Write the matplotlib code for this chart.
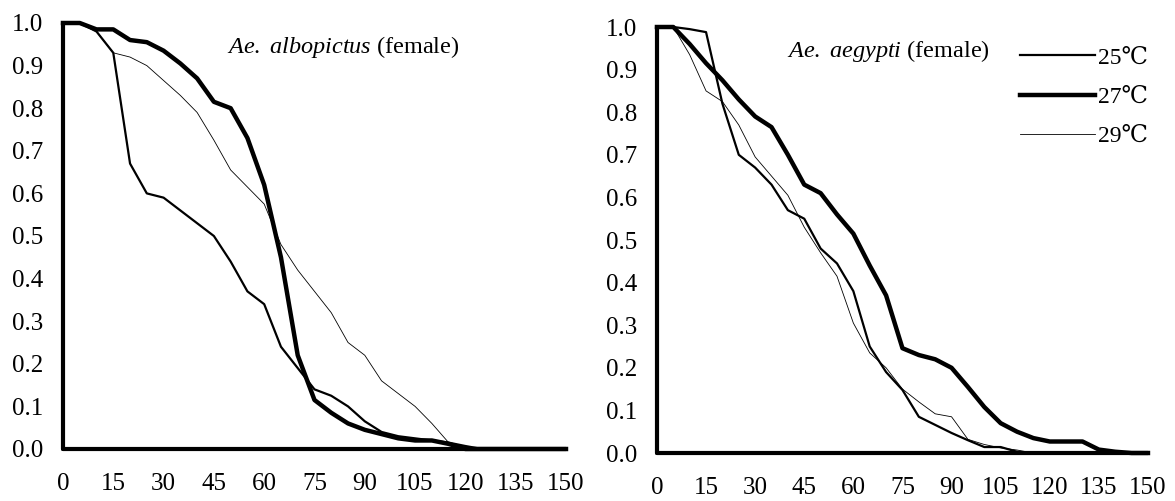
import matplotlib
matplotlib.use("Agg")
from matplotlib import pyplot as plt
from matplotlib.lines import Line2D

# ngày theo dõi (mỗi 5 ngày)
days = list(range(0, 155, 5))
xticks = [0, 15, 30, 45, 60, 75, 90, 105, 120, 135, 150]
yticks = [0.0, 0.1, 0.2, 0.3, 0.4, 0.5, 0.6, 0.7, 0.8, 0.9, 1.0]
labels = ["25℃", "27℃", "29℃"]

# Ae. albopictus (female)
albo_25 = [1.0, 1.0, 0.98, 0.93, 0.67, 0.60, 0.59, 0.56, 0.53, 0.50, 0.44, 0.37, 0.34, 0.24, 0.19, 0.14,
           0.125, 0.10, 0.065, 0.04, 0.03, 0.025, 0.02, 0.015, 0.007, 0, 0, 0, 0, 0, 0]
albo_27 = [1.0, 1.0, 0.985, 0.985, 0.96, 0.955, 0.935, 0.905, 0.87, 0.815, 0.80, 0.73, 0.62, 0.45, 0.22, 0.115,
           0.085, 0.06, 0.045, 0.035, 0.025, 0.02, 0.02, 0.012, 0, 0, 0, 0, 0, 0, 0]
albo_29 = [1.0, 1.0, 0.98, 0.93, 0.92, 0.90, 0.865, 0.83, 0.79, 0.725, 0.655, 0.615, 0.575, 0.48, 0.42, 0.37,
           0.32, 0.25, 0.22, 0.16, 0.13, 0.10, 0.06, 0.015, 0, 0, 0, 0, 0, 0, 0]

# Ae. aegypti (female)
aeg_25 = [1.0, 1.0, 0.995, 0.988, 0.82, 0.70, 0.67, 0.63, 0.57, 0.55, 0.48, 0.445, 0.38, 0.25, 0.19, 0.148,
          0.085, 0.066, 0.047, 0.03, 0.014, 0.014, 0.003, 0, 0, 0, 0, 0, 0, 0, 0]
aeg_27 = [1.0, 1.0, 0.96, 0.915, 0.875, 0.83, 0.79, 0.765, 0.70, 0.63, 0.61, 0.56, 0.515, 0.44, 0.37, 0.246,
          0.23, 0.22, 0.20, 0.155, 0.108, 0.07, 0.05, 0.035, 0.027, 0.027, 0.027, 0.008, 0.003, 0, 0]
aeg_29 = [1.0, 1.0, 0.935, 0.85, 0.825, 0.77, 0.695, 0.65, 0.605, 0.53, 0.47, 0.415, 0.305, 0.235, 0.20, 0.15,
          0.12, 0.092, 0.085, 0.032, 0.02, 0.012, 0.007, 0, 0, 0, 0, 0, 0, 0, 0]

plt.rcParams["font.family"] = ["Liberation Serif", "DejaVu Serif", "DejaVu Sans"]
plt.rcParams["mathtext.fontset"] = "custom"
plt.rcParams["mathtext.it"] = "Liberation Serif:italic"
plt.rcParams["mathtext.rm"] = "Liberation Serif"

fig = plt.figure(figsize=(11.75, 5.01), dpi=100)
ax1 = fig.add_axes([0.0536, 0.1038, 0.4281, 0.8503])
ax2 = fig.add_axes([0.5591, 0.0958, 0.4179, 0.8503])

widths = [1.6, 3.2, 0.6]

for ax, series, title, tx in [(ax1, [albo_25, albo_27, albo_29], r"$\mathit{Ae.\ albopictus}$ (female)", 49),
                              (ax2, [aeg_25, aeg_27, aeg_29], r"$\mathit{Ae.\ aegypti}$ (female)", 39.7)]:
    for s, lw in zip(series, widths):
        ax.plot(days, s, color="black", lw=lw, clip_on=False, solid_joinstyle="round")
    ax.set_xlim(0, 150)
    ax.set_ylim(0, 1.0)
    ax.set_xticks(xticks)
    ax.set_yticks(yticks)
    ax.set_yticklabels(["%.1f" % v for v in yticks])
    ax.tick_params(length=0, labelsize=18)
    ax.tick_params(axis="y", pad=14)
    ax.tick_params(axis="x", pad=17)
    for sp in ["top", "right"]:
        ax.spines[sp].set_visible(False)
    for sp in ["left", "bottom"]:
        ax.spines[sp].set_linewidth(3)
        ax.spines[sp].set_capstyle("round")
    ax.text(tx, 0.944, title, fontsize=17.5, va="center", ha="left")

# chú thích
handles = [Line2D([0], [0], color="black", lw=lw) for lw in widths]
fig.legend(handles, labels, loc="upper left", bbox_to_anchor=(0.868, 0.906), frameon=False,
           fontsize=17, handlelength=3.2, handletextpad=0.1, labelspacing=0.75,
           borderpad=0, borderaxespad=0)

fig.savefig("out.png", dpi=100, facecolor="white")
